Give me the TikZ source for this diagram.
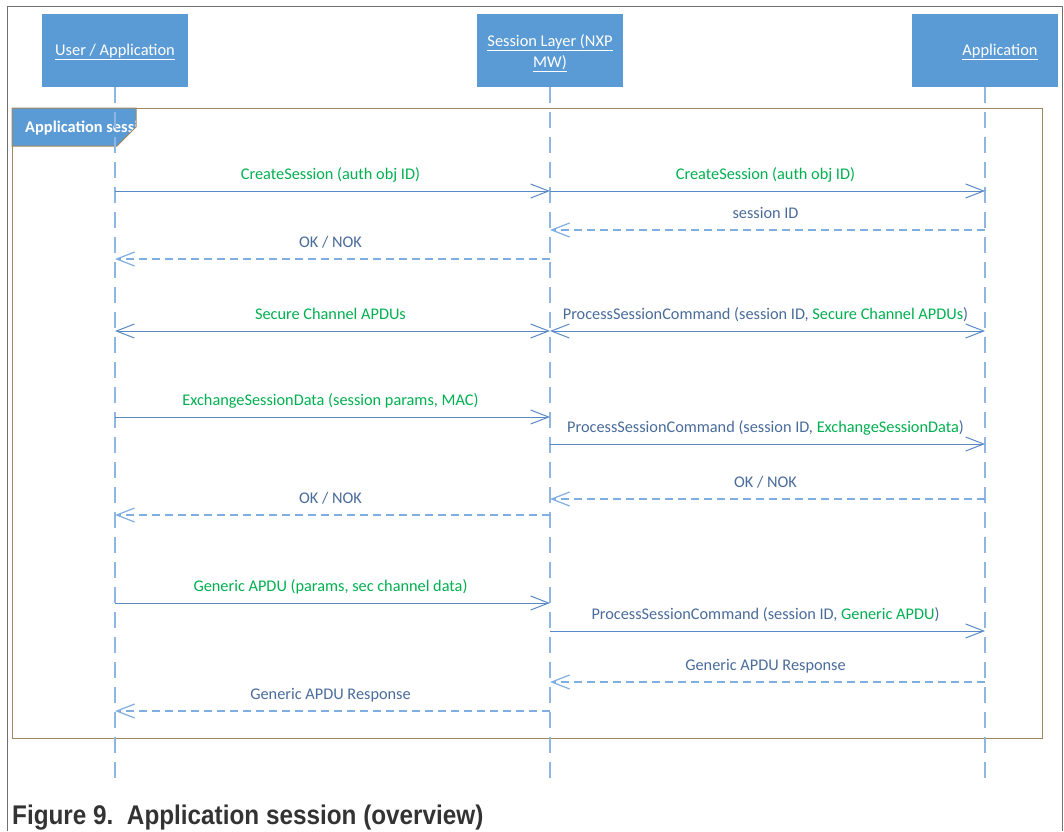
\documentclass[tikz,border=0pt]{standalone}
\usepackage{fontspec}
\setmainfont{Carlito}
\newfontfamily\captionfont{Liberation Sans}
\usetikzlibrary{arrows.meta}

\definecolor{hdrblue}{HTML}{5B9BD5}
\definecolor{lifeblue}{HTML}{8DB7E2}
\definecolor{msgblue}{HTML}{5A8AC6}
\definecolor{retblue}{HTML}{7FAEE0}
\definecolor{txtgreen}{HTML}{00B050}
\definecolor{txtblue}{HTML}{4A6C9B}
\definecolor{frametan}{HTML}{A3875C}
\definecolor{bordergray}{HTML}{707070}
\definecolor{captiongray}{HTML}{333333}

\tikzset{
  actor/.style={fill=hdrblue, draw=none, minimum width=146pt, minimum height=73pt,
    text=white, font=\fontsize{16.4}{20}\selectfont, inner sep=0pt},
  lifeline/.style={draw=lifeblue, line width=1.3pt, dash pattern=on 16pt off 9pt},
  callmsg/.style={draw=msgblue, line width=1pt, -{Straight Barb[length=18pt,width=14pt]}},
  bothmsg/.style={draw=msgblue, line width=1pt,
    {Straight Barb[length=18pt,width=14pt]}-{Straight Barb[length=18pt,width=14pt]}},
  retmsg/.style={draw=retblue, line width=1.2pt, dash pattern=on 8pt off 5pt,
    -{Straight Barb[length=18pt,width=14pt]}},
  msglabel/.style={midway, anchor=base, yshift=12pt, xshift=-2pt,
    font=\fontsize{16.3}{20}\selectfont, inner sep=0pt},
  actorlabel/.style={text=white, font=\fontsize{16.4}{20}\selectfont, inner sep=0pt},
}

\begin{document}
\begin{tikzpicture}[x=1pt, y=-1pt]
  \useasboundingbox (0,0) rectangle (1064,831);
  \fill[white] (0,0) rectangle (1064,831);

  % page border
  \draw[bordergray, line width=1pt] (7,831) -- (7,6) -- (1062,6) -- (1062,831);

  % participants
  \node[actor] (user) at (115,50.5) {};
  \node[actorlabel] (userlbl) at (115,52) {\underline{User / Application}};
  \node[actor] (sess) at (550,50.5) {};
  \node[actorlabel, align=center] (sesslbl) at (550,53)
    {\underline{Session Layer (NXP}\\[1pt]\underline{MW)}};
  \node[actor] (app) at (985,50.5) {};
  \node[actorlabel] (applbl) at (1000,52) {\underline{Application}};

  % combined fragment frame
  \draw[frametan, line width=1pt] (12,108) rectangle (1042,738);
  \path[fill=hdrblue] (12,108) -- (136,108) -- (136,127) -- (117,146) -- (12,146) -- cycle;
  \begin{scope}
    \clip (12,108) -- (136,108) -- (136,127) -- (117,146) -- (12,146) -- cycle;
    \node[anchor=west, text=white, font=\bfseries\fontsize{16.4}{20}\selectfont, inner sep=0pt]
      (fraglbl) at (25,128) {Application session};
  \end{scope}
  \draw[frametan, line width=1pt] (12,108) -- (136,108) -- (136,127) -- (117,146) -- (12,146) -- cycle;

  % lifeline ends
  \coordinate (userend) at (115,780);
  \coordinate (sessend) at (550,780);
  \coordinate (append) at (985,780);
  \draw[lifeline] (user.south) -- (userend);
  \draw[lifeline] (sess.south) -- (sessend);
  \draw[lifeline] (app.south) -- (append);

  % message anchor points on each lifeline
  \foreach \n/\yy in {1/191,2/230,3/259,4/331,5/417,6/444,7/499,8/515,9/603,10/631,11/682,12/711}{
    \coordinate (u\n) at (115,\yy);
    \coordinate (s\n) at (550,\yy);
    \coordinate (a\n) at (985,\yy);
  }

  % messages
  \draw[callmsg] (u1) -- (s1) node[msglabel, text=txtgreen] {CreateSession (auth obj ID)};
  \draw[callmsg] (s1) -- (a1) node[msglabel, text=txtgreen] {CreateSession (auth obj ID)};
  \draw[retmsg] (a2) -- (s2) node[msglabel, text=txtblue] {session ID};
  \draw[retmsg] (s3) -- (u3) node[msglabel, text=txtblue] {OK / NOK};

  \draw[bothmsg] (u4) -- (s4) node[msglabel, text=txtgreen] {Secure Channel APDUs};
  \draw[bothmsg] (s4) -- (a4) node[msglabel, text=txtblue]
    {ProcessSessionCommand (session ID, \textcolor{txtgreen}{Secure Channel APDUs})};

  \draw[callmsg] (u5) -- (s5) node[msglabel, text=txtgreen] {ExchangeSessionData (session params, MAC)};
  \draw[callmsg] (s6) -- (a6) node[msglabel, text=txtblue]
    {ProcessSessionCommand (session ID, \textcolor{txtgreen}{ExchangeSessionData})};
  \draw[retmsg] (a7) -- (s7) node[msglabel, text=txtblue] {OK / NOK};
  \draw[retmsg] (s8) -- (u8) node[msglabel, text=txtblue] {OK / NOK};

  \draw[callmsg] (u9) -- (s9) node[msglabel, text=txtgreen] {Generic APDU (params, sec channel data)};
  \draw[callmsg] (s10) -- (a10) node[msglabel, text=txtblue]
    {ProcessSessionCommand (session ID, \textcolor{txtgreen}{Generic APDU})};
  \draw[retmsg] (a11) -- (s11) node[msglabel, text=txtblue] {Generic APDU Response};
  \draw[retmsg] (s12) -- (u12) node[msglabel, text=txtblue] {Generic APDU Response};

  % caption
  \node[anchor=base west, inner sep=0pt, text=captiongray] (caption) at (12,824)
    {\scalebox{0.9}[1]{\captionfont\bfseries\fontsize{27}{30}\selectfont Figure 9.\ \ Application session (overview)}};
\end{tikzpicture}
\end{document}
